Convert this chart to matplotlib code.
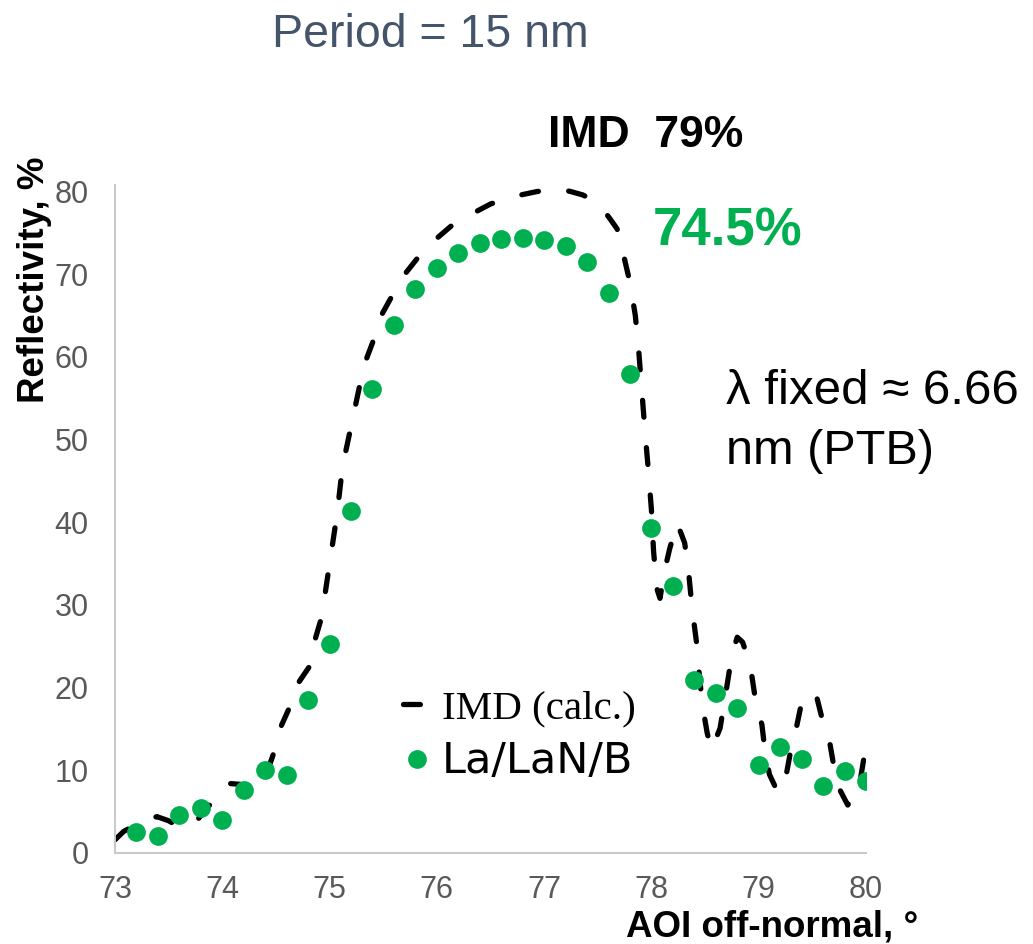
import matplotlib
matplotlib.use('Agg')
import matplotlib.pyplot as plt

# IMD calculation (dashed curve)
imd_x = [73.00, 73.08, 73.22, 73.39, 73.50, 73.59, 73.68, 73.78, 73.92, 74.07,
         74.17, 74.27, 74.36, 74.44, 74.49, 74.54, 74.63, 74.71, 74.82, 74.86,
         74.93, 74.96, 75.00, 75.07, 75.12, 75.21, 75.28, 75.33, 75.40, 75.46,
         75.57, 75.67, 75.81, 75.95, 76.13, 76.31, 76.50, 76.71, 76.93, 77.05,
         77.15, 77.25, 77.36, 77.45, 77.54, 77.62, 77.68, 77.73, 77.80, 77.85,
         77.88, 77.91, 77.94, 77.97, 78.00, 78.02, 78.05, 78.08, 78.12, 78.17,
         78.24, 78.31, 78.35, 78.38, 78.42, 78.45, 78.48, 78.52, 78.56, 78.64,
         78.71, 78.75, 78.80, 78.85, 78.92, 78.97, 79.03, 79.06, 79.10, 79.18,
         79.26, 79.30, 79.35, 79.40, 79.48, 79.54, 79.59, 79.66, 79.70, 79.75,
         79.83, 79.90, 79.94, 80.00]
imd_y = [1.6, 2.6, 3.6, 4.4, 3.9, 3.2, 3.3, 4.2, 6.4, 8.4,
         8.3, 7.6, 8.7, 10.6, 12.5, 15.1, 17.7, 20.6, 22.7, 25.6,
         28.7, 31.5, 35.0, 41.0, 46.7, 52.2, 56.5, 59.3, 61.7, 64.5,
         67.1, 69.5, 71.8, 73.8, 75.8, 77.2, 78.5, 79.4, 80.0, 80.2,
         80.3, 80.0, 79.6, 79.0, 78.0, 76.6, 75.5, 72.9, 69.0, 65.0,
         61.0, 56.0, 51.0, 46.5, 41.5, 36.5, 32.0, 30.8, 34.0, 36.8,
         39.9, 37.5, 33.5, 29.5, 25.5, 21.0, 17.5, 14.5, 12.5, 15.1,
         20.7, 24.0, 26.1, 25.5, 22.8, 18.5, 15.5, 12.2, 9.5, 7.3,
         9.7, 12.5, 15.1, 18.2, 19.5, 18.9, 16.3, 13.5, 10.5, 7.8,
         5.8, 7.2, 8.3, 13.0]

# measured La/LaN/B points
meas_x = [73.2, 73.4, 73.6, 73.8, 74.0, 74.2, 74.4, 74.6, 74.8, 75.0,
          75.2, 75.4, 75.6, 75.8, 76.0, 76.2, 76.4, 76.6, 76.8, 77.0,
          77.2, 77.4, 77.6, 77.8, 78.0, 78.2, 78.4, 78.6, 78.8, 79.0,
          79.2, 79.4, 79.6, 79.8, 80.0]
meas_y = [2.5, 2.1, 4.6, 5.4, 4.0, 7.6, 10.0, 9.4, 18.5, 25.3,
          41.4, 56.1, 63.9, 68.2, 70.8, 72.6, 73.8, 74.3, 74.4, 74.2,
          73.4, 71.5, 67.7, 57.9, 39.3, 32.3, 20.9, 19.4, 17.5, 10.6,
          12.8, 11.4, 8.1, 9.9, 8.7]

x_ticks = [73, 74, 75, 76, 77, 78, 79, 80]
y_ticks = [0, 10, 20, 30, 40, 50, 60, 70, 80]

green = '#00B050'
W, H = 1033, 944


def fx(px):
    return px / W


def fy(py):
    return 1 - py / H


fig = plt.figure(figsize=(W / 100, H / 100), dpi=100)
ax = fig.add_axes([fx(115), fy(853), fx(866) - fx(115), (853 - 185) / H])

ax.plot(imd_x, imd_y, color='black', lw=3.8, linestyle=(0, (3.2, 5.8)),
        dash_capstyle='round', label='IMD (calc.)')
ax.plot(meas_x, meas_y, linestyle='none', marker='o', ms=13.5, color=green,
        markeredgewidth=0, label='La/LaN/B')

ax.set_xlim(73, 80)
ax.set_ylim(0, 80.8)
ax.set_xticks(x_ticks)
ax.set_yticks(y_ticks)

sans = ['Liberation Sans', 'DejaVu Sans']
for lab in ax.get_xticklabels() + ax.get_yticklabels():
    lab.set_family(sans)
    lab.set_fontsize(22)
    lab.set_color('#595959')
ax.tick_params(axis='both', length=0)
ax.tick_params(axis='y', pad=19)
ax.tick_params(axis='x', pad=16)

for side in ['top', 'right']:
    ax.spines[side].set_visible(False)
for side in ['left', 'bottom']:
    ax.spines[side].set_color('#C8C8C8')
    ax.spines[side].set_linewidth(1.4)

leg = ax.legend(loc='upper left', bbox_to_anchor=(fx(403), fy(690)),
                bbox_transform=fig.transFigure, frameon=False, fontsize=29.5,
                handlelength=0.7, handletextpad=0.25, labelspacing=0.3,
                borderpad=0, borderaxespad=0)
leg.get_texts()[0].set_family(['Liberation Serif', 'DejaVu Serif'])
leg.get_texts()[1].set_family(['DejaVu Sans'])
leg.get_texts()[1].set_fontsize(31)

fig.text(fx(272), fy(47), 'Period = 15 nm', fontsize=33.5, color='#44546A',
         family=sans, va='baseline', ha='left')
fig.text(fx(548), fy(147), 'IMD  79%', fontsize=32, fontweight='bold',
         color='black', family=sans, va='baseline', ha='left')
fig.text(fx(653), fy(245), '74.5%', fontsize=38, fontweight='bold',
         color=green, family=sans, va='baseline', ha='left')
fig.text(fx(726), fy(404), 'λ fixed ≈ 6.66', fontsize=35.5, color='black',
         family=sans, va='baseline', ha='left')
fig.text(fx(726), fy(464), 'nm (PTB)', fontsize=35, color='black',
         family=sans, va='baseline', ha='left')

fig.text(fx(35), fy(280), 'Reflectivity, %', fontsize=26.5, fontweight='bold',
         rotation=90, family=sans, va='center', ha='center')
fig.text(fx(918), fy(937), 'AOI off-normal, °', fontsize=26.5, fontweight='bold',
         family=sans, va='baseline', ha='right')

fig.savefig('out.png', dpi=100)
